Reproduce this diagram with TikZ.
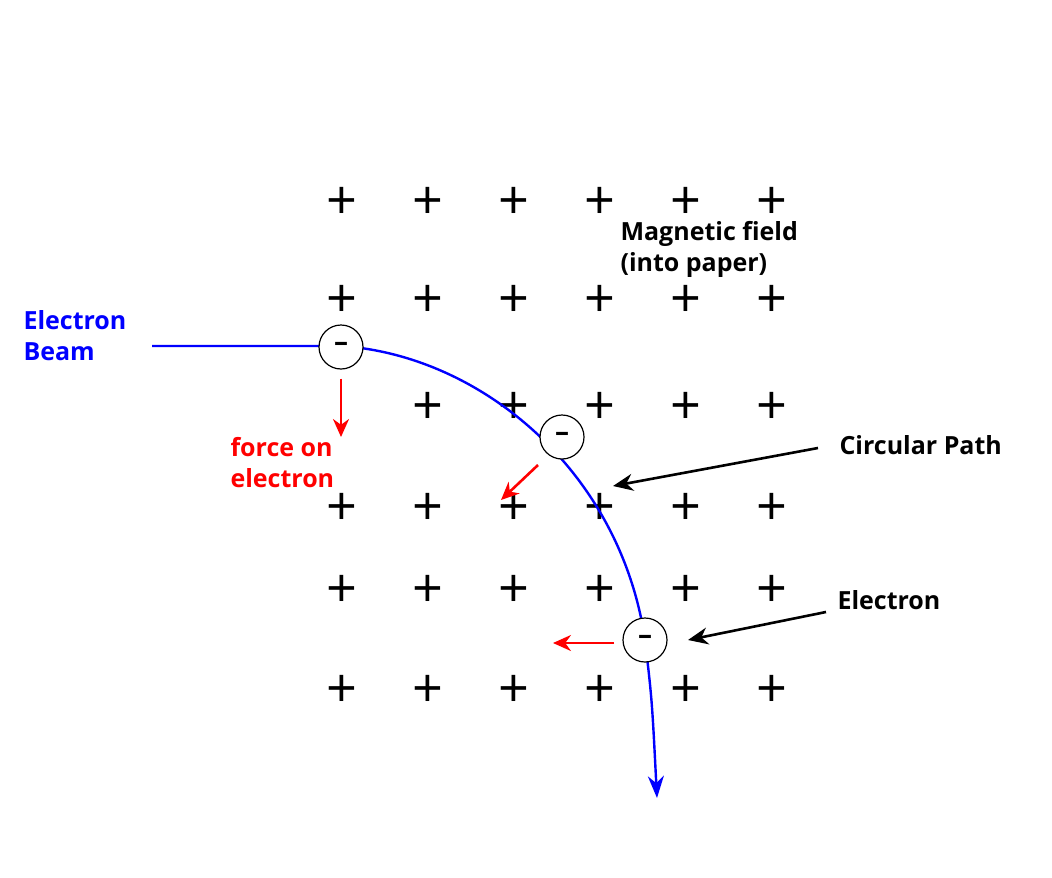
\documentclass[tikz,border=0pt]{standalone}
\usepackage{fontspec}
\setmainfont{Open Sans}
\usetikzlibrary{arrows.meta}
\tikzset{
  plus/.style={inner sep=0pt,text height=18pt,text depth=0pt,yshift=-8pt,font=\fontsize{54}{54}\selectfont},
  electron/.style={circle,draw,fill=white,line width=1.2pt,minimum size=44pt,inner sep=0pt,font=\fontsize{28}{28}\selectfont\bfseries},
  txt/.style={font=\fontsize{25}{31}\selectfont\bfseries,align=left,anchor=west},
  force/.style={red,line width=2.6pt,-{Stealth[length=18pt,width=16pt]}},
  pointer/.style={black,line width=2.6pt,-{Stealth[length=20pt,width=17pt]}}
}
\begin{document}
\begin{tikzpicture}[x=1pt,y=-1pt]
\useasboundingbox (0,0) rectangle (1052,878);
% field crosses
\foreach \y in {202,300,508,590,690}
  \foreach \x in {342,428,514,600,686,772}
    \node[plus] (c-\x-\y) at (\x,\y) {+};
\foreach \x in {428,514,600,686,772}
  \node[plus] (c-\x-407) at (\x,407) {+};
% beam
\coordinate (start) at (152,346);
\coordinate (e1) at (341,346);
\coordinate (e3) at (645,640);
\coordinate (finish) at (657,798);
\draw[blue,line width=2.4pt,-{Stealth[length=22pt,width=16pt]}] (start) -- (e1)
  .. controls (480,355) and (620,470) .. (e3) .. controls (652,700) .. (finish);
\node[electron] (el1) at (341,347) {--};
\node[electron] (el2) at (562,437) {--};
\node[electron] (el3) at (645,640) {--};
% forces
\coordinate (f1) at (341,437);
\coordinate (f2) at (501,500);
\coordinate (f3) at (553,643);
\draw[force] (el1.south) ++(0,9) -- (f1);
\draw[force] (538,465) -- (f2);
\draw[force] (614,643) -- (f3);
% labels
\node[txt,blue] (beam) at (20,336) {Electron\\Beam};
\node[txt,red] (forcelbl) at (227,463) {force on\\electron};
\node[txt] (field) at (617,249) {Magnetic field\\(into paper)};
\node[txt] (path) at (836,445) {Circular Path};
\node[txt] (elec) at (834,600) {Electron};
\coordinate (p1) at (613,486);
\coordinate (p2) at (688,640);
\draw[pointer] (path.west) ++(-18,3) -- (p1);
\draw[pointer] (elec.west) ++(-8,12) -- (p2);
\end{tikzpicture}
\end{document}
